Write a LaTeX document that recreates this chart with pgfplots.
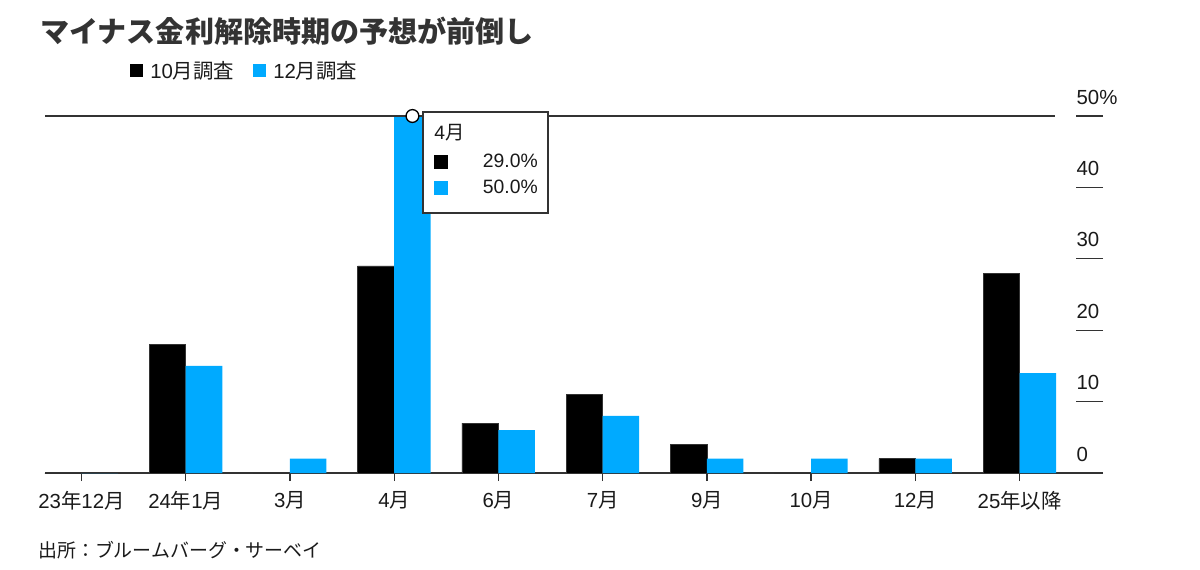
\documentclass[border=0pt]{standalone}
\usepackage{fontspec}
\setmainfont{Liberation Sans}
\newfontfamily\cjk{Noto Sans CJK JP}
\usepackage{pgfplots}
\pgfplotsset{compat=1.18}
\definecolor{bblue}{RGB}{0,170,255}
\definecolor{axgray}{RGB}{51,51,51}
\definecolor{txt}{RGB}{26,26,26}
\newcommand\J[1]{{\cjk #1}}
\begin{document}
\begin{tikzpicture}
\begin{scope}[x=0.75pt,y=-0.75pt]
\useasboundingbox (0,0) rectangle (1200,569);
\end{scope}
\begin{axis}[
  at={(33.75pt,-354.75pt)}, anchor=south west,
  scale only axis, width=793.5pt, height=267.75pt,
  xmin=-0.35, xmax=9.80, ymin=0, ymax=50,
  clip=false,
  axis x line*=bottom, axis y line*=right,
  x axis line style={draw=axgray, line width=1.1pt},
  y axis line style={draw=none},
  xtick={0,...,9},
  xticklabels={23\J{年}12\J{月},24\J{年}1\J{月},3\J{月},4\J{月},6\J{月},7\J{月},9\J{月},10\J{月},12\J{月},25\J{年以降}},
  ytick={0,10,20,30,40,50},
  yticklabels={0,10,20,30,40,50\%},
  xtick align=outside, ytick align=inside,
  major tick length=20pt,
  xtick style={draw=axgray, line width=1pt, /pgfplots/major tick length=6pt},
  ytick style={draw=axgray, line width=1pt},
  xticklabel style={font=\fontsize{15.3}{18}\selectfont, text=txt, inner sep=0pt, yshift=6.5pt},
  yticklabel style={font=\fontsize{15.3}{18}\selectfont, text=txt, anchor=base west, inner sep=0pt, xshift=-20pt, yshift=9pt},
]
\addplot[ybar, bar width=27.4pt, bar shift=-13.7pt, fill=black, draw=axgray, line width=0.4pt]
  coordinates {(0,0) (1,18) (2,0) (3,29) (4,7) (5,11) (6,4) (7,0) (8,2) (9,28)};
\addplot[ybar, bar width=27.4pt, bar shift=13.7pt, fill=bblue, draw=none]
  coordinates {(0,0) (1,15) (2,2) (3,50) (4,6) (5,8) (6,2) (7,2) (8,2) (9,14)};
\draw[axgray, line width=1pt] (axis cs:-0.35,50) -- (axis cs:9.34,50);
\addplot[only marks, mark=*, mark size=4.8pt, mark options={fill=white, draw=black, line width=1pt}]
  coordinates {(3.175,50)};
\end{axis}
\begin{scope}[x=0.75pt,y=-0.75pt, every node/.style={inner sep=0pt, text=txt}]
\node[anchor=west, text=axgray, font=\fontsize{21.8}{26}\selectfont\cjk\bfseries] at (40,31) {マイナス金利解除時期の予想が前倒し};
\fill[black] (130,64) rectangle (143,77);
\node[anchor=west, font=\fontsize{15.3}{18}\selectfont] at (150,71) {10\J{月調査}};
\fill[bblue] (253,64) rectangle (266,77);
\node[anchor=west, font=\fontsize{15.3}{18}\selectfont] at (273,71) {12\J{月調査}};
\draw[fill=white, draw=axgray, line width=0.8pt] (423,112) rectangle (548,213);
\node[anchor=west, font=\fontsize{14.5}{17}\selectfont] at (434,133) {4\J{月}};
\fill[black] (434,155) rectangle (448,169);
\node[anchor=east, font=\fontsize{14.5}{17}\selectfont] at (538,161) {29.0\%};
\fill[bblue] (434,181) rectangle (448,195);
\node[anchor=east, font=\fontsize{14.5}{17}\selectfont] at (538,187) {50.0\%};
\node[anchor=west, font=\fontsize{14.2}{17}\selectfont] at (38,550) {\J{出所：ブルームバーグ・サーベイ}};
\end{scope}
\end{tikzpicture}
\end{document}
